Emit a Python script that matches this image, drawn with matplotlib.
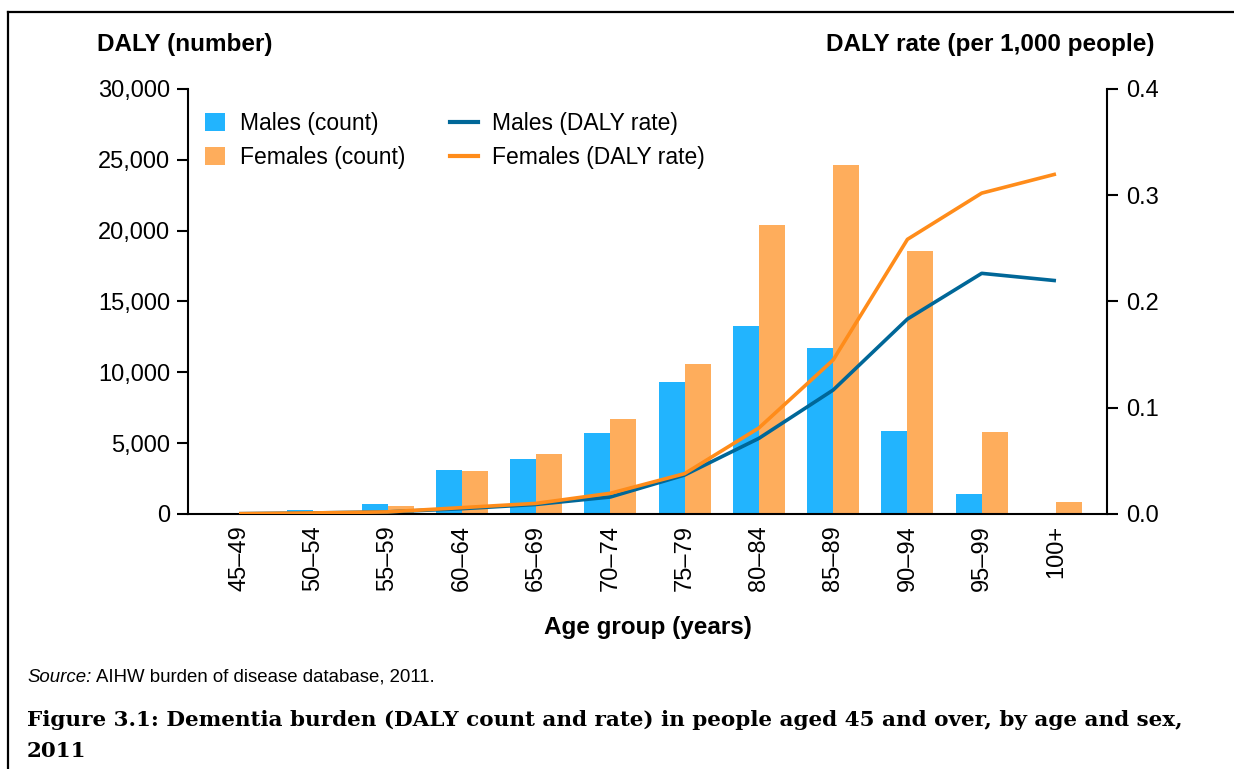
import matplotlib
matplotlib.use("Agg")
import matplotlib.pyplot as plt
from matplotlib.patches import Patch
from matplotlib.lines import Line2D
from matplotlib.ticker import FuncFormatter, MultipleLocator
import numpy as np

plt.rcParams['font.family'] = ['Liberation Sans', 'DejaVu Sans']

age_groups = ["45–49", "50–54", "55–59", "60–64", "65–69", "70–74",
              "75–79", "80–84", "85–89", "90–94", "95–99", "100+"]
males_count = [70, 300, 730, 3100, 3860, 5720, 9290, 13250, 11750, 5860, 1390, 50]
females_count = [30, 240, 580, 3030, 4210, 6680, 10560, 20400, 24620, 18560, 5770, 870]
males_rate = [0.0003, 0.001, 0.002, 0.005, 0.009, 0.016, 0.0367, 0.0712, 0.1167, 0.1835, 0.2265, 0.2196]
females_rate = [0.0003, 0.001, 0.002, 0.006, 0.010, 0.0195, 0.038, 0.081, 0.145, 0.2585, 0.302, 0.320]

c_mbar = "#22b4fe"
c_fbar = "#fead5c"
c_mline = "#006798"
c_fline = "#ff8c1a"

fig = plt.figure(figsize=(12.34, 7.69), dpi=100)
W, H = 1234, 769
ax = fig.add_axes([188 / W, 1 - 514 / H, (1107 - 188) / W, (514 - 89) / H])
ax2 = ax.twinx()

x = np.arange(len(age_groups))
bw = 0.35
ax.bar(x - bw / 2, males_count, width=bw, color=c_mbar, zorder=2)
ax.bar(x + bw / 2, females_count, width=bw, color=c_fbar, zorder=2)
ax2.plot(x, males_rate, color=c_mline, lw=2.6, solid_capstyle='butt', zorder=3)
ax2.plot(x, females_rate, color=c_fline, lw=2.6, solid_capstyle='butt', zorder=3)

ax.set_xlim(-0.687, 11.687)
ax.set_ylim(0, 30000)
ax2.set_ylim(0, 0.4)
ax.yaxis.set_major_locator(MultipleLocator(5000))
ax.yaxis.set_major_formatter(FuncFormatter(lambda v, p: f"{int(v):,}"))
ax2.yaxis.set_major_locator(MultipleLocator(0.1))
ax2.yaxis.set_major_formatter(FuncFormatter(lambda v, p: f"{v:.1f}"))

ax.set_xticks(x)
ax.set_xticklabels(age_groups, rotation=90, fontsize=17)
ax.tick_params(axis='x', length=0, pad=8)
ax.tick_params(axis='y', labelsize=17, length=8, width=1.5, direction='out', pad=5)
ax2.tick_params(axis='y', labelsize=17, length=8, width=1.5, direction='out', pad=6)

for a in (ax, ax2):
    a.spines['top'].set_visible(False)
    for s in a.spines.values():
        s.set_linewidth(1.5)
ax.spines['right'].set_visible(False)
ax2.spines['left'].set_visible(False)
ax2.spines['bottom'].set_visible(False)

ax.set_xlabel("Age group (years)", fontsize=17.5, fontweight='bold', labelpad=18)

fig.text(97 / W, 1 - 45 / H, "DALY (number)", fontsize=17.5, fontweight='bold',
         ha='left', va='center')
fig.text(1155 / W, 1 - 45 / H, "DALY rate (per 1,000 people)", fontsize=17.5,
         fontweight='bold', ha='right', va='center')

# legends
bar_handles = [Patch(facecolor=c_mbar, edgecolor='none', label="Males (count)"),
               Patch(facecolor=c_fbar, edgecolor='none', label="Females (count)")]
line_handles = [Line2D([], [], color=c_mline, lw=3, label="Males (DALY rate)"),
                Line2D([], [], color=c_fline, lw=3, label="Females (DALY rate)")]
leg1 = ax.legend(handles=bar_handles, loc='upper left',
                 bbox_to_anchor=(205 / W, 1 - 112 / H), bbox_transform=fig.transFigure,
                 frameon=False, fontsize=16.5, handlelength=0.87, handleheight=0.8,
                 handletextpad=0.65, labelspacing=0.48, borderaxespad=0, borderpad=0)
ax.add_artist(leg1)
leg2 = ax.legend(handles=line_handles, loc='upper left',
                 bbox_to_anchor=(450 / W, 1 - 112 / H), bbox_transform=fig.transFigure,
                 frameon=False, fontsize=16.5, handlelength=1.22,
                 handletextpad=0.61, labelspacing=0.48, borderaxespad=0, borderpad=0)

# source and caption
fig.canvas.draw()
renderer = fig.canvas.get_renderer()
t_src = fig.text(27 / W, 1 - 677 / H, "Source:", fontsize=13.4, style='italic',
                 ha='left', va='center')
bb = t_src.get_window_extent(renderer)
fig.text((bb.x1 + 5) / W, 1 - 677 / H, "AIHW burden of disease database, 2011.",
         fontsize=13.4, ha='left', va='center')

serif = ['DejaVu Serif', 'Liberation Serif']
cap1 = fig.text(27 / W, 1 - 720 / H,
                "Figure 3.1: Dementia burden (DALY count and rate) in people aged 45 and over, by age and sex,",
                fontsize=17, fontweight='bold', family=serif, ha='left', va='center')
w = cap1.get_window_extent(renderer).width
fs = 17 * (1180 - 27) / w
cap1.set_fontsize(fs)
fig.text(27 / W, 1 - 751 / H, "2011", fontsize=fs, fontweight='bold',
         family=serif, ha='left', va='center')

# frame lines
fig.add_artist(Line2D([8 / W, 1], [1 - 12 / H, 1 - 12 / H], transform=fig.transFigure,
                      color='black', lw=1.6))
fig.add_artist(Line2D([8 / W, 8 / W], [0, 1 - 12 / H], transform=fig.transFigure,
                      color='black', lw=1.6))

fig.savefig("out.png", dpi=100)
